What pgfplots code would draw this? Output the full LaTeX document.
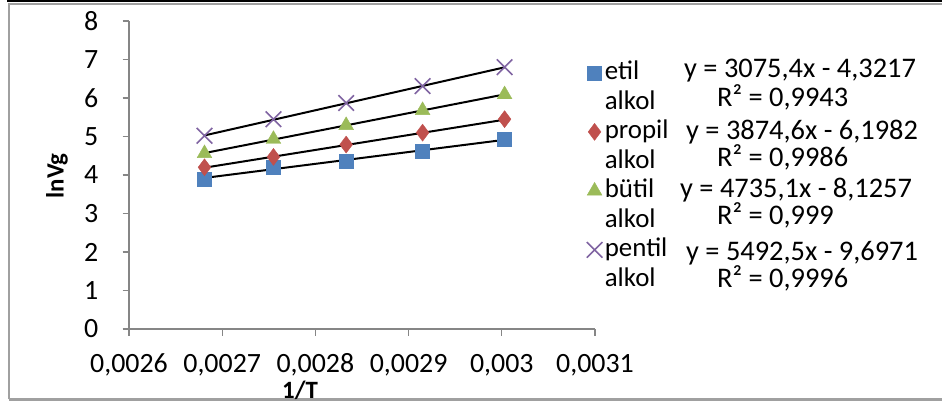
\documentclass[border=0pt]{standalone}
\usepackage{fontspec}
\setmainfont{Carlito}
\usepackage{pgfplots}
\pgfplotsset{compat=1.18}
\definecolor{cBlue}{HTML}{4F81BD}
\definecolor{cRed}{HTML}{C0504D}
\definecolor{cGreen}{HTML}{9BBB59}
\definecolor{cPurple}{HTML}{8064A2}
\definecolor{axgray}{HTML}{868686}
\definecolor{frgray}{HTML}{A0A0A0}
\newcommand{\tf}{\fontsize{28}{33}\selectfont}
\newcommand{\lf}{\fontsize{27}{32}\selectfont}
\newcommand{\ef}{\fontsize{28.5}{33}\selectfont}
\newcommand{\af}{\fontsize{25}{30}\selectfont}
\begin{document}
\tf
\begin{tikzpicture}
\useasboundingbox (0bp,0bp) rectangle (942bp,403bp);
\fill[white] (0bp,0bp) rectangle (942bp,403bp);
\draw[frgray, line width=2.5bp] (9bp,3.5bp) -- (9bp,399bp) -- (960bp,399bp);
\draw[frgray, line width=2.5bp] (9bp,3.5bp) -- (960bp,3.5bp);
\fill[black] (7bp,400.5bp) rectangle (960bp,404bp);
\begin{axis}[
  at={(129bp,74bp)}, anchor=south west,
  scale only axis, width=466bp, height=308bp,
  xmin=0.0026, xmax=0.0031, ymin=0, ymax=8,
  axis x line*=bottom, axis y line*=left,
  axis line style={-, axgray, line width=1.2bp},
  every tick/.style={axgray, line width=1.2bp},
  tick align=outside, major tick length=6.5bp,
  xtick={0.0026,0.0027,0.0028,0.0029,0.003,0.0031},
  xticklabels={0{,}0026,0{,}0027,0{,}0028,0{,}0029,0{,}003,0{,}0031},
  ytick={0,1,2,3,4,5,6,7,8},
  yticklabels={0,1,2,3,4,5,6,7,8},
  scaled x ticks=false,
  xticklabel style={font=\tf, anchor=base, inner sep=0pt, yshift=-37bp},
  yticklabel style={font=\tf, anchor=east, inner sep=0pt, xshift=-24bp},
  xlabel={1/T}, ylabel={lnVg},
  every axis x label/.style={at={(axis description cs:0.367,0)}, anchor=center, yshift=-61bp, inner sep=0pt, font=\bfseries\af},
  every axis y label/.style={at={(axis description cs:0,0.497)}, rotate=90, anchor=center, yshift=72bp, font=\bfseries\af},
  legend cell align=left,
  legend style={draw=none, fill=none, at={(axis description cs:0.974,0.885)}, anchor=north west,
    font=\lf, row sep=1bp, column sep=1bp,
    nodes={inner sep=1.5bp, text height=19.5bp, text depth=6bp}},
  clip=false,
]
% trendlines
\addplot[black, line width=2bp, forget plot] coordinates {(0.002681,3.924) (0.003003,4.914)};
\addplot[black, line width=2bp, forget plot] coordinates {(0.002681,4.190) (0.003003,5.437)};
\addplot[black, line width=2bp, forget plot] coordinates {(0.002681,4.570) (0.003003,6.094)};
\addplot[black, line width=2bp, forget plot] coordinates {(0.002681,5.028) (0.003003,6.797)};
% data
\addplot[only marks, mark=square*, mark size=7bp, draw=cBlue, fill=cBlue] coordinates {
 (0.002681,3.90) (0.002755,4.19) (0.002833,4.37) (0.002915,4.63) (0.003003,4.93)};
\addlegendentry{etil}
\addlegendimage{empty legend}\addlegendentry{alkol}
\addplot[only marks, mark=diamond*, mark size=8.5bp, draw=cRed, fill=cRed] coordinates {
 (0.002681,4.20) (0.002755,4.47) (0.002833,4.79) (0.002915,5.10) (0.003003,5.45)};
\addlegendentry{propil}
\addlegendimage{empty legend}\addlegendentry{alkol}
\addplot[only marks, mark=triangle*, mark size=8.5bp, draw=cGreen, fill=cGreen] coordinates {
 (0.002681,4.56) (0.002755,4.93) (0.002833,5.29) (0.002915,5.68) (0.003003,6.09)};
\addlegendentry{bütil}
\addlegendimage{empty legend}\addlegendentry{alkol}
\addplot[only marks, mark=x, mark size=11bp, draw=cPurple, line width=1.6bp] coordinates {
 (0.002681,5.02) (0.002755,5.45) (0.002833,5.87) (0.002915,6.31) (0.003003,6.80)};
\addlegendentry{pentil}
\addlegendimage{empty legend}\addlegendentry{alkol}
\end{axis}
\node[anchor=base west, inner sep=0pt, font=\ef] at (684bp,325bp) {y = 3075,4x - 4,3217};
\node[anchor=base west, inner sep=0pt, font=\ef] at (717bp,296bp) {R² = 0,9943};
\node[anchor=base west, inner sep=0pt, font=\ef] at (686bp,263bp) {y = 3874,6x - 6,1982};
\node[anchor=base west, inner sep=0pt, font=\ef] at (717bp,236bp) {R² = 0,9986};
\node[anchor=base west, inner sep=0pt, font=\ef] at (680bp,205bp) {y = 4735,1x - 8,1257};
\node[anchor=base west, inner sep=0pt, font=\ef] at (717bp,178bp) {R² = 0,999};
\node[anchor=base west, inner sep=0pt, font=\ef] at (686bp,142bp) {y = 5492,5x - 9,6971};
\node[anchor=base west, inner sep=0pt, font=\ef] at (717bp,115bp) {R² = 0,9996};
\end{tikzpicture}
\end{document}
